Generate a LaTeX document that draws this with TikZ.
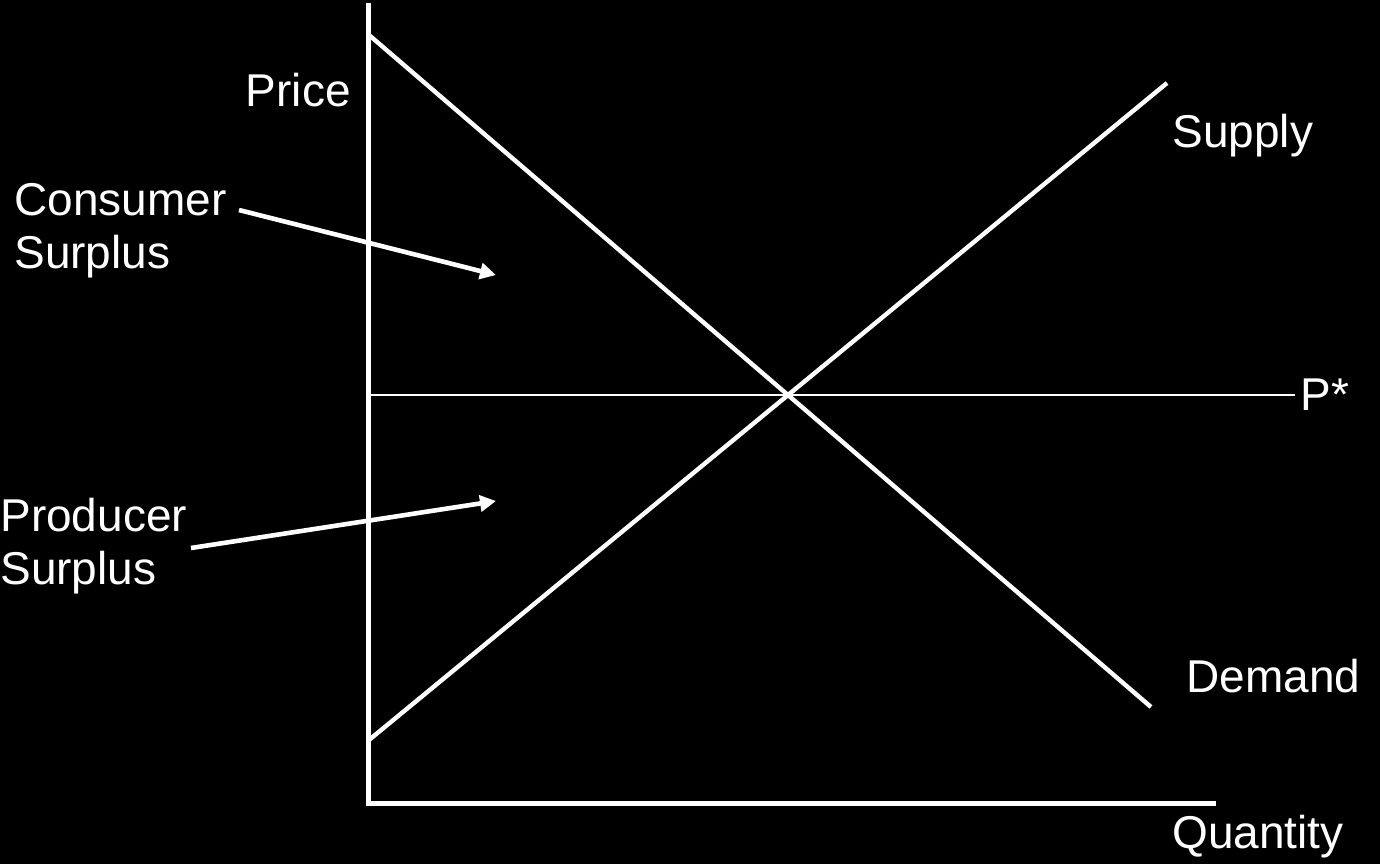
\documentclass[tikz,border=0pt]{standalone}
\usepackage{fontspec}
\setmainfont{Liberation Sans}
\usetikzlibrary{arrows.meta,calc}
\begin{document}
\begin{tikzpicture}[x=0.5pt,y=-0.5pt,
  axis/.style={white,line width=2.5pt},
  curve/.style={white,line width=2.2pt},
  pline/.style={white,line width=0.75pt},
  pointer/.style={white,line width=2.3pt,-{Triangle[length=8pt,width=8pt]}},
  lbl/.style={text=white,inner sep=0pt,font=\fontsize{23}{26.5}\selectfont,align=left}]
\fill[black] (0,0) rectangle (1380,864);
\useasboundingbox (0,0) rectangle (1380,864);
\coordinate (O) at (368,803);
\coordinate (Ytop) at (368,3);
\coordinate (Xend) at (1216,803);
\draw[axis] (Ytop) -- (O) -- (Xend);
\coordinate (D1) at (369,35);
\coordinate (D2) at (1151,707);
\coordinate (S1) at (369,740);
\coordinate (S2) at (1167,83);
\draw[curve] (D1) -- (D2);
\draw[curve] (S1) -- (S2);
\coordinate (E) at (intersection of D1--D2 and S1--S2);
\coordinate (Pref) at (1295,0);
\coordinate (Lref) at (1300,0);
\draw[pline] (E -| O) -- (E -| Pref);
\node[lbl,anchor=west] (pstar) at (E -| Lref) {P*};
\node[lbl,anchor=base east] (price) at (351,106) {Price};
\node[lbl,anchor=base west] (supply) at (1172,147) {Supply};
\node[lbl,anchor=base west] (demand) at (1186,692) {Demand};
\node[lbl,anchor=base west] (qty) at (1172,848) {Quantity};
\node[lbl,anchor=north west] (cs) at (14,183) {Consumer\\Surplus};
\node[lbl,anchor=north west] (ps) at (0,498) {Producer\\Surplus};
\coordinate (csA) at (239,210);
\coordinate (csB) at (496,275);
\coordinate (psA) at (191,548);
\coordinate (psB) at (496,501);
\draw[pointer] (csA) -- (csB);
\draw[pointer] (psA) -- (psB);
\end{tikzpicture}
\end{document}
